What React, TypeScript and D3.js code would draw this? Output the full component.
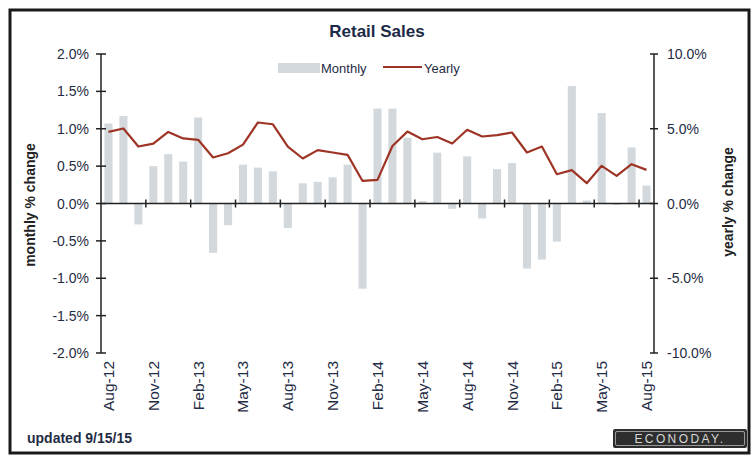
import React from "react";
import * as d3 from "d3";

const months = [
  "Aug-12","Sep-12","Oct-12","Nov-12","Dec-12","Jan-13","Feb-13","Mar-13","Apr-13","May-13","Jun-13","Jul-13",
  "Aug-13","Sep-13","Oct-13","Nov-13","Dec-13","Jan-14","Feb-14","Mar-14","Apr-14","May-14","Jun-14","Jul-14",
  "Aug-14","Sep-14","Oct-14","Nov-14","Dec-14","Jan-15","Feb-15","Mar-15","Apr-15","May-15","Jun-15","Jul-15","Aug-15",
];

const monthly = [
  1.07, 1.17, -0.28, 0.5, 0.66, 0.56, 1.15, -0.66, -0.29, 0.52, 0.48, 0.43,
  -0.33, 0.27, 0.29, 0.35, 0.52, -1.14, 1.27, 1.27, 0.88, 0.03, 0.68, -0.07,
  0.63, -0.2, 0.46, 0.54, -0.87, -0.75, -0.51, 1.57, 0.04, 1.21, -0.02, 0.75, 0.24,
];

const yearly = [
  4.79, 5.02, 3.81, 4.01, 4.79, 4.35, 4.26, 3.08, 3.36, 3.94, 5.42, 5.3,
  3.81, 3.01, 3.57, 3.41, 3.25, 1.51, 1.58, 3.85, 4.81, 4.3, 4.45, 4.01,
  4.93, 4.48, 4.57, 4.75, 3.41, 3.81, 1.96, 2.23, 1.36, 2.52, 1.85, 2.63, 2.25,
];

const leftTicks = [2, 1.5, 1, 0.5, 0, -0.5, -1, -1.5, -2];
const rightTicks = [10, 5, 0, -5, -10];
const xTickLabels = ["Aug-12","Nov-12","Feb-13","May-13","Aug-13","Nov-13","Feb-14","May-14","Aug-14","Nov-14","Feb-15","May-15","Aug-15"];

const W = 753, H = 457;
const X0 = 101, X1 = 654, YT = 54, YB = 353;
const FONT = "Liberation Sans, Arial, sans-serif";
const LABEL = "#1f2c45";

export default function App() {
  const x = d3.scaleBand<string>().domain(months).range([X0, X1]).paddingInner(0.46).paddingOuter(0.23);
  const step = x.step();
  const yL = d3.scaleLinear().domain([-2, 2]).range([YB, YT]);
  const yR = d3.scaleLinear().domain([-10, 10]).range([YB, YT]);
  const cx = (m: string) => (x(m) as number) + x.bandwidth() / 2;
  const line = d3.line<number>().x((_, i) => cx(months[i])).y((d) => yR(d));
  const y0 = yL(0);
  const boundaryTicks = d3.range(3, months.length + 1, 3).map((k) => X0 + step * k);

  return (
    <svg width={W} height={H} style={{ position: "absolute", left: 0, top: 0, background: "#fff" }} fontFamily={FONT}>
      <rect x={0} y={0} width={W} height={H} fill="#fff" />
      <rect x={10} y={10} width={739} height={443} fill="#fff" stroke="#1a1a1a" strokeWidth={3} />
      <text x={377} y={37} textAnchor="middle" fontSize={17} fontWeight="bold" fill="#1c2a48">Retail Sales</text>

      {/* legend */}
      <rect x={278} y={63} width={42} height={10} fill="#d3d8dd" />
      <text x={321} y={73} fontSize={13} fill={LABEL}>Monthly</text>
      <line x1={383} x2={422} y1={67} y2={67} stroke="#9e3426" strokeWidth={2} />
      <text x={424} y={73} fontSize={13} fill={LABEL}>Yearly</text>

      {/* bars */}
      {monthly.map((v, i) => (
        <rect key={i} x={x(months[i]) as number} width={x.bandwidth()} y={Math.min(yL(v), y0)}
          height={Math.abs(yL(v) - y0)} fill="#d3d8dd" />
      ))}

      {/* x axis */}
      <line x1={X0} x2={X1} y1={y0} y2={y0} stroke="#222" strokeWidth={1.5} />
      {boundaryTicks.map((t, i) => (
        <line key={i} x1={t} x2={t} y1={y0 - 4} y2={y0 + 4} stroke="#222" strokeWidth={1.5} />
      ))}

      {/* yearly line */}
      <path d={line(yearly) || ""} fill="none" stroke="#9e3426" strokeWidth={2.2} strokeLinejoin="round" />

      {/* left axis */}
      <line x1={X0} x2={X0} y1={YT} y2={YB} stroke="#222" strokeWidth={1.5} />
      {leftTicks.map((t) => (
        <g key={t}>
          <line x1={X0 - 5} x2={X0 + 5} y1={yL(t)} y2={yL(t)} stroke="#222" strokeWidth={1.5} />
          <text x={89} y={yL(t) + 5} textAnchor="end" fontSize={14} fill={LABEL}>{t.toFixed(1) + "%"}</text>
        </g>
      ))}

      {/* right axis */}
      <line x1={X1} x2={X1} y1={YT} y2={YB} stroke="#222" strokeWidth={1.5} />
      {rightTicks.map((t) => (
        <g key={t}>
          <line x1={X1 - 4} x2={X1 + 4} y1={yR(t)} y2={yR(t)} stroke="#222" strokeWidth={1.5} />
          <text x={667} y={yR(t) + 5} textAnchor="start" fontSize={14} fill={LABEL}>{t.toFixed(1) + "%"}</text>
        </g>
      ))}

      {/* x labels */}
      {xTickLabels.map((m) => (
        <text key={m} transform={`translate(${cx(m) + 5.5},${361}) rotate(-90)`} textAnchor="end" fontSize={15.5} fill={LABEL}>{m}</text>
      ))}

      {/* axis titles */}
      <text transform={`translate(35,205) rotate(-90)`} textAnchor="middle" fontSize={14} fontWeight="bold" fill="#222">monthly % change</text>
      <text transform={`translate(733,202) rotate(-90)`} textAnchor="middle" fontSize={14} fontWeight="bold" fill="#222">yearly % change</text>

      <text x={27} y={443} fontSize={14} fontWeight="bold" fill="#1f2c45">updated 9/15/15</text>

      {/* logo */}
      <rect x={613} y={429} width={134} height={19} rx={2} fill="#2e2e2e" />
      <rect x={615.5} y={431.5} width={129} height={14} rx={1.5} fill="none" stroke="#9a9a9a" strokeWidth={1} />
      <text x={680} y={443} textAnchor="middle" fontSize={12} letterSpacing={2.4} fill="#d8d8d8">ECONODAY.</text>
    </svg>
  );
}
